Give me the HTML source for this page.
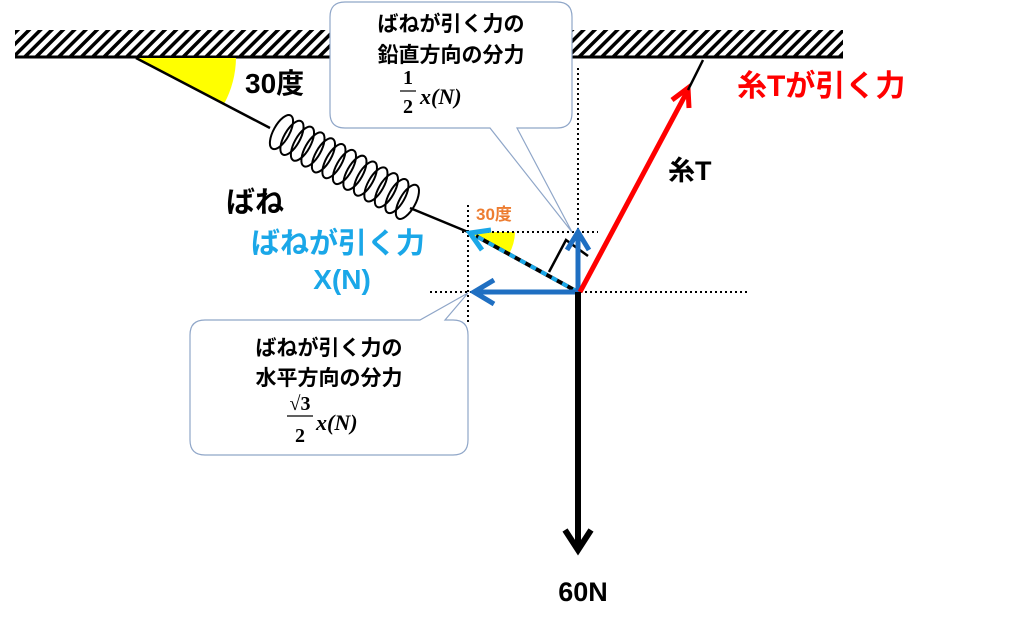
<!DOCTYPE html>
<html><head><meta charset="utf-8"><style>
body{margin:0;background:#fff;}
.t{font-family:"Liberation Sans","Noto Sans CJK JP",sans-serif;font-weight:bold;}
.m{font-family:"Liberation Serif",serif;font-weight:bold;}
</style></head><body>
<svg width="1024" height="625" viewBox="0 0 1024 625" xmlns="http://www.w3.org/2000/svg">
<defs>
<pattern id="h" width="8" height="8" patternUnits="userSpaceOnUse" patternTransform="rotate(45)">
<rect width="8" height="8" fill="#fff"/><rect width="3.5" height="8" fill="#000"/>
</pattern>
</defs>
<rect x="15" y="30" width="828" height="26" fill="url(#h)"/>
<line x1="15" y1="57" x2="843" y2="57" stroke="#000" stroke-width="3"/>
<path d="M136,58 L236,58 A100,100 0 0 1 224,104 Z" fill="#ff0"/>
<path d="M468,232 L515,232 A47,47 0 0 1 509,254 Z" fill="#ff0"/>
<line x1="136" y1="58" x2="270" y2="128" stroke="#000" stroke-width="2.5"/>
<line x1="410" y1="208" x2="468" y2="232" stroke="#000" stroke-width="2.5"/>
<g transform="translate(270,128) rotate(29)" fill="none" stroke="#000" stroke-width="2">
<ellipse cx="12" cy="-2" rx="8" ry="19"/><ellipse cx="24" cy="-2" rx="8" ry="19"/>
<ellipse cx="36" cy="-2" rx="8" ry="19"/><ellipse cx="48" cy="-2" rx="8" ry="19"/>
<ellipse cx="60" cy="-2" rx="8" ry="19"/><ellipse cx="72" cy="-2" rx="8" ry="19"/>
<ellipse cx="84" cy="-2" rx="8" ry="19"/><ellipse cx="96" cy="-2" rx="8" ry="19"/>
<ellipse cx="108" cy="-2" rx="8" ry="19"/><ellipse cx="120" cy="-2" rx="8" ry="19"/>
<ellipse cx="132" cy="-2" rx="8" ry="19"/><ellipse cx="144" cy="-2" rx="8" ry="19"/>
<ellipse cx="156" cy="-2" rx="8" ry="19"/>
</g>
<g stroke="#000" stroke-width="2" stroke-dasharray="2,3">
<line x1="578" y1="68" x2="578" y2="292"/>
<line x1="462" y1="232" x2="598" y2="232"/>
<line x1="430" y1="292" x2="748" y2="292"/>
<line x1="468" y1="205" x2="468" y2="322"/>
</g>
<path d="M345,2 H557 Q572,2 572,17 V113 Q572,128 557,128 H517 L572,232 L490,128 H345 Q330,128 330,113 V17 Q330,2 345,2 Z" fill="#fff" stroke="#8fa6c8" stroke-width="1.2"/>
<path d="M205,320 H420 L468,293 L445,320 H453 Q468,320 468,335 V440 Q468,455 453,455 H205 Q190,455 190,440 V335 Q190,320 205,320 Z" fill="#fff" stroke="#8fa6c8" stroke-width="1.2"/>
<line x1="578" y1="292" x2="476" y2="236" stroke="#000" stroke-width="4"/>
<line x1="578" y1="292" x2="476" y2="236" stroke="#1aa7e8" stroke-width="4" stroke-dasharray="6,6"/>
<polyline points="491,230 470,233 482,250" fill="none" stroke="#1aa7e8" stroke-width="5"/>
<polyline points="549,272 566,240 588,256" fill="none" stroke="#000" stroke-width="2.5"/>
<line x1="578" y1="292" x2="474" y2="292" stroke="#1f6fc2" stroke-width="5"/>
<polyline points="494,280 474,292 494,304" fill="none" stroke="#1f6fc2" stroke-width="5"/>
<line x1="578" y1="292" x2="578" y2="232" stroke="#1f6fc2" stroke-width="5"/>
<polyline points="567,250 578,232 589,250" fill="none" stroke="#1f6fc2" stroke-width="5"/>
<line x1="580" y1="292" x2="688" y2="90" stroke="#f00" stroke-width="5"/>
<polyline points="672,100 688,88 689,108" fill="none" stroke="#f00" stroke-width="5"/>
<line x1="688" y1="90" x2="703" y2="60" stroke="#000" stroke-width="2.5"/>
<line x1="578" y1="292" x2="578" y2="548" stroke="#000" stroke-width="6"/>
<polyline points="565,530 578,550 591,530" fill="none" stroke="#000" stroke-width="6"/>
<g class="t">
<text x="245" y="93" font-size="28">30度</text>
<text x="226" y="212" font-size="29">ばね</text>
<text x="476" y="220" font-size="17" fill="#ed7d31">30度</text>
<text x="338" y="253" font-size="29" fill="#1aa7e8" text-anchor="middle">ばねが引く力</text>
<text x="342" y="289" font-size="28" fill="#1aa7e8" text-anchor="middle">X(N)</text>
<text x="737" y="96" font-size="30" fill="#f00">糸Tが引く力</text>
<text x="668" y="180" font-size="27">糸T</text>
<text x="583" y="601" font-size="27" text-anchor="middle">60N</text>
<text x="451" y="31" font-size="21" text-anchor="middle">ばねが引く力の</text>
<text x="451" y="62" font-size="21" text-anchor="middle">鉛直方向の分力</text>
<text x="329" y="355" font-size="21" text-anchor="middle">ばねが引く力の</text>
<text x="329" y="385" font-size="21" text-anchor="middle">水平方向の分力</text>
</g>
<g class="m">
<text x="408" y="84" font-size="20" text-anchor="middle">1</text>
<line x1="400" y1="91" x2="416" y2="91" stroke="#000" stroke-width="1.2"/>
<text x="408" y="113" font-size="20" text-anchor="middle">2</text>
<text x="420" y="104" font-size="22" font-style="italic">x(N)</text>
<text x="300" y="410" font-size="20" text-anchor="middle">√3</text>
<line x1="287" y1="416" x2="313" y2="416" stroke="#000" stroke-width="1.2"/>
<text x="300" y="442" font-size="20" text-anchor="middle">2</text>
<text x="316" y="430" font-size="22" font-style="italic">x(N)</text>
</g>
</svg>
</body></html>
